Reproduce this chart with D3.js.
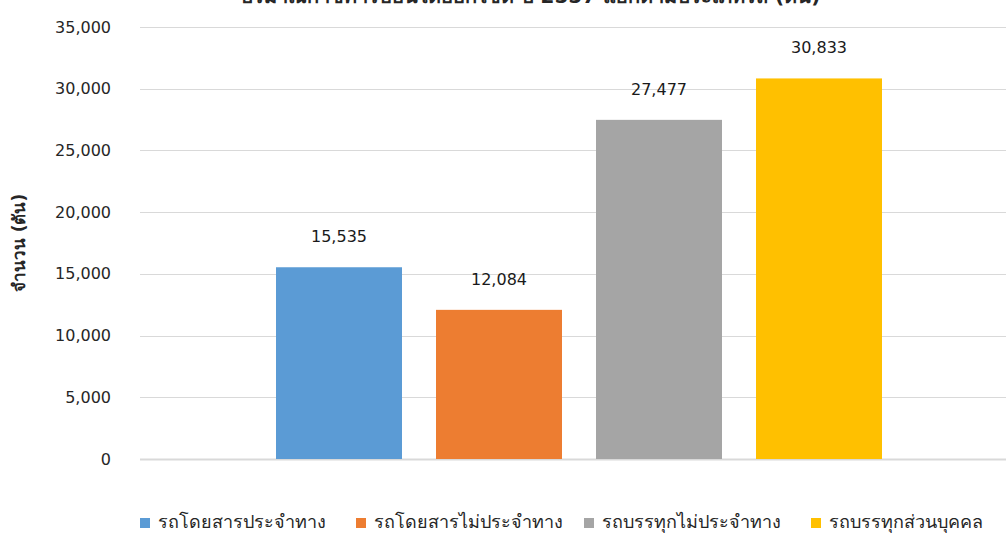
<!DOCTYPE html>
<html><head><meta charset="utf-8">
<script src="https://cdn.jsdelivr.net/npm/d3@7"></script>
<style>html,body{margin:0;padding:0;background:#fff;}svg{display:block;}</style>
</head><body>
<svg id="c" width="1006" height="538"></svg>
<script>
const categories = ["รถโดยสารประจำทาง","รถโดยสารไม่ประจำทาง","รถบรรทุกไม่ประจำทาง","รถบรรทุกส่วนบุคคล"];
const values = [15535, 12084, 27477, 30833];
const colors = ["#5B9BD5","#ED7D31","#A5A5A5","#FFC000"];
const tickValues = [0,5000,10000,15000,20000,25000,30000,35000];
const titleText = "ปริมาณก๊าซคาร์บอนไดออกไซด์ ปี 2557 แยกตามประเภทรถ (ตัน)";
const yTitle = "จำนวน (ตัน)";

(function(){
const font = "Tahoma, 'DejaVu Sans', 'Noto Sans', sans-serif";
const svg = d3.select("#c");
const pLeft = 140, pRight = 1018, pTop = 27, pBottom = 459;

const y = d3.scaleLinear().domain([0,35000]).range([pBottom, pTop]);
const x = d3.scaleBand().domain(categories).range([pLeft, pRight]).paddingInner(0.2125).paddingOuter(0.85);

// gridlines
svg.append("g").selectAll("line").data(tickValues).join("line")
  .attr("x1", pLeft).attr("x2", 1006)
  .attr("y1", d => Math.round(y(d)) + 0.5).attr("y2", d => Math.round(y(d)) + 0.5)
  .attr("stroke", "#d9d9d9").attr("stroke-width", d => d === 0 ? 2 : 1);

// y axis tick labels
const yAxis = d3.axisLeft(y).tickValues(tickValues).tickFormat(d3.format(",")).tickSize(0).tickPadding(0);
const ga = svg.append("g").attr("transform", "translate(111,0)").call(yAxis);
ga.select(".domain").remove();
ga.selectAll("text").attr("font-family", font).attr("font-size", 16).attr("fill", "#262626");

// bars
svg.append("g").selectAll("rect").data(values).join("rect")
  .attr("x", (d,i) => x(categories[i])).attr("width", x.bandwidth())
  .attr("y", d => y(d)).attr("height", d => y(0) - y(d))
  .attr("fill", (d,i) => colors[i]);

// value labels
svg.append("g").selectAll("text").data(values).join("text")
  .attr("x", (d,i) => x(categories[i]) + x.bandwidth()/2)
  .attr("y", d => y(d) - 25)
  .attr("text-anchor", "middle").attr("font-family", font).attr("font-size", 16)
  .attr("fill", "#1a1a1a")
  .text(d => d3.format(",")(d));

// y title
svg.append("text").attr("transform", "translate(25,243) rotate(-90)")
  .attr("text-anchor", "middle").attr("font-family", font).attr("font-size", 17)
  .attr("font-weight", "bold").attr("fill", "#262626").text(yTitle);

// chart title (cut off at top, as in the reference)
svg.append("text").attr("x", 530).attr("y", 3).attr("text-anchor", "middle")
  .attr("font-family", font).attr("font-size", 20).attr("font-weight", "bold")
  .attr("fill", "#262626").text(titleText);

// legend
const legX = [140, 356, 584, 811];
const lg = svg.append("g").selectAll("g").data(categories).join("g")
  .attr("transform", (d,i) => `translate(${legX[i]},518)`);
lg.append("rect").attr("width", 10).attr("height", 10).attr("fill", (d,i) => colors[i]);
lg.append("text").attr("x", 18).attr("y", 10).attr("font-family", font).attr("font-size", 18)
  .attr("fill", "#262626").text(d => d);
})();
</script>
</body></html>
